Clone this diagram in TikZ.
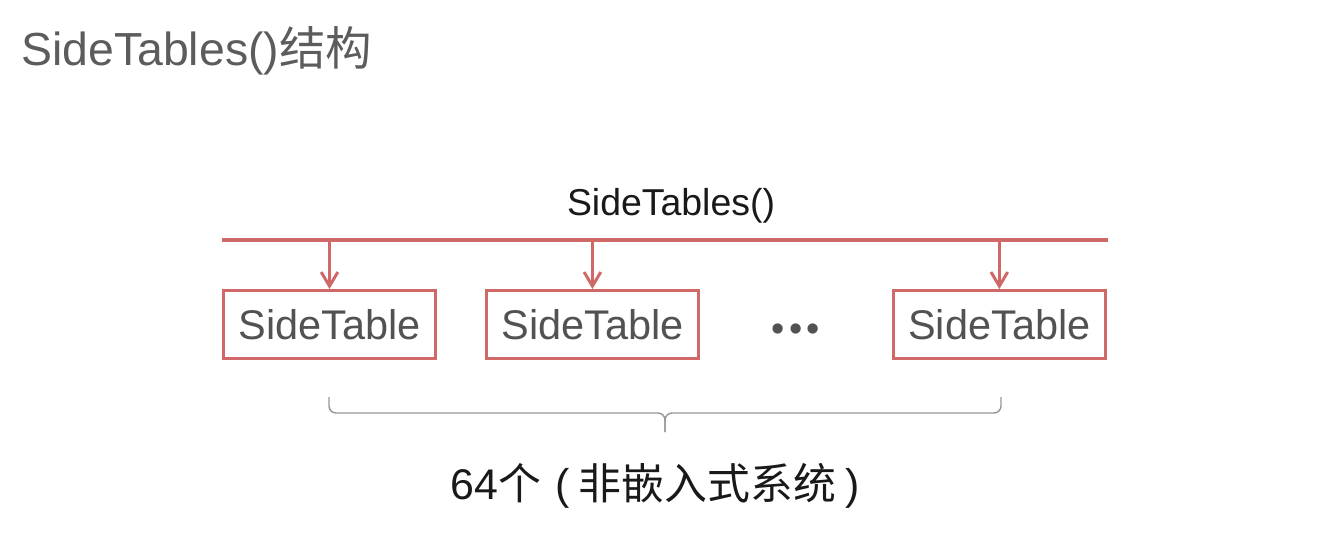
\documentclass[tikz,border=0pt]{standalone}
\usepackage{fontspec}
\setmainfont{Liberation Sans}
\newfontfamily\cjk{Noto Sans CJK SC}
\usetikzlibrary{arrows.meta,positioning,calc}
\definecolor{tabred}{RGB}{208,104,104}
\definecolor{boxtext}{RGB}{82,82,82}
\definecolor{titlegray}{RGB}{92,92,92}
\definecolor{bracegray}{RGB}{150,150,150}
\definecolor{ink}{RGB}{25,25,25}

\begin{document}
\begin{tikzpicture}[x=0.02cm, y=-0.02cm,
  >={Straight Barb[length=8pt,width=9.5pt]},
  tab/.style={rectangle, draw=tabred, line width=1.7pt, minimum width=4.24cm, minimum height=1.36cm, inner sep=0pt, text=boxtext, font=\fontsize{23.6}{26}\selectfont},
  feed/.style={->, draw=tabred, line width=1.7pt},
  brc/.style={draw=bracegray, line width=0.8pt, rounded corners=4pt}]
\useasboundingbox (0,0) rectangle (1320,556);
\node[anchor=base west, text=titlegray, inner sep=0pt, font=\fontsize{26.4}{30}\selectfont] (title) at (21,65) {SideTables(){\cjk 结构}};
\node[tab] (st1) at (329.5,324.5) {SideTable};
\node[tab, right=0.96cm of st1] (st2) {SideTable};
\node[tab, right=3.84cm of st2] (st3) {SideTable};
\node[text=boxtext, font=\fontsize{21.5}{24}\selectfont] (dots) at ($(st2.east)!0.5!(st3.west)+(0,8)$) {•\hspace{0.12em}•\hspace{0.12em}•};
\coordinate (busL) at (222,240);
\coordinate (busR) at (1108,240);
\draw[tabred, line width=2.3pt] (busL) -- (busR);
\node[anchor=base, text=ink, inner sep=0pt, font=\fontsize{21.3}{24}\selectfont] (all) at (671,215) {SideTables()};
\foreach \n in {st1,st2,st3}
  \draw[feed] (\n.north |- busL) -- (\n.north);
\coordinate (bL) at (329,397);
\coordinate (bR) at (1001,397);
\coordinate (bM) at (665,413);
\coordinate (bT) at (665,432);
\draw[brc] (bL) -- (bL |- bM) -- (bM) -- (bT);
\draw[brc] (bR) -- (bR |- bM) -- (bM) -- (bT);
\node[anchor=base west, text=ink, inner sep=0pt, font=\fontsize{24.4}{28}\selectfont] (count) at (450,499) {64{\cjk 个}\hspace{0.33em}(\hspace{0.22em}{\cjk 非嵌入式系统}\hspace{0.23em})};
\end{tikzpicture}
\end{document}
